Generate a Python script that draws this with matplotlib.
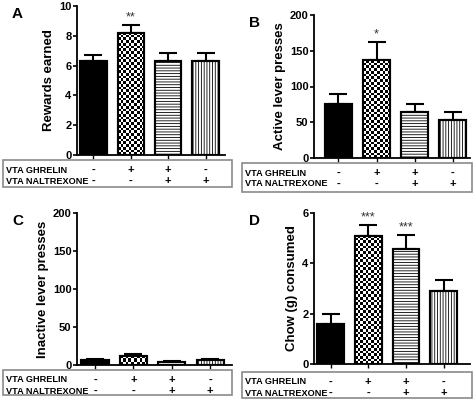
import matplotlib
matplotlib.use("Agg")
import matplotlib.pyplot as plt
import numpy as np
from matplotlib.patches import Rectangle

plt.rcParams['font.family'] = ['Liberation Sans', 'DejaVu Sans']
plt.rcParams['hatch.linewidth'] = 0.6
plt.rcParams['hatch.color'] = 'black'

W, H = 474, 400

ghrelin = ['-', '+', '+', '-']
naltrexone = ['-', '-', '+', '+']

rewards = [6.3, 8.2, 6.3, 6.3]
rewards_err = [0.4, 0.55, 0.55, 0.55]
rewards_sig = ['', '**', '', '']

active = [75, 137, 65, 53]
active_err = [14, 25, 10, 11]
active_sig = ['', '*', '', '']

inactive = [7, 12, 4, 6]
inactive_err = [1.2, 2.0, 1.0, 1.5]
inactive_sig = ['', '', '', '']

chow = [1.6, 5.1, 4.55, 2.9]
chow_err = [0.4, 0.42, 0.58, 0.45]
chow_sig = ['', '***', '***', '']

panels = [
    # letter, values, errors, stars, ylabel, ylim, yticks, axes px (l, t, r, b), xlim, table px (l, t, r, b)
    ('A', rewards, rewards_err, rewards_sig, 'Rewards earned', 10, [0, 2, 4, 6, 8, 10],
     (77, 6, 225, 155), (-0.44, 3.52), (3, 160, 232, 187)),
    ('B', active, active_err, active_sig, 'Active lever presses', 200, [0, 50, 100, 150, 200],
     (314, 15, 470, 158), (-0.64, 3.45), (242, 163, 472, 192)),
    ('C', inactive, inactive_err, inactive_sig, 'Inactive lever presses', 200, [0, 50, 100, 150, 200],
     (77, 213, 232, 365), (-0.47, 3.57), (3, 370, 232, 395)),
    ('D', chow, chow_err, chow_sig, 'Chow (g) consumed', 6, [0, 2, 4, 6],
     (314, 213, 470, 364), (-0.44, 3.70), (242, 372, 472, 398)),
]

fig = plt.figure(figsize=(W / 100, H / 100), dpi=100)


def add_checker(ax, bar, cell=2.7):
    x0, y0 = bar.get_x(), bar.get_y()
    x1, y1 = x0 + bar.get_width(), y0 + bar.get_height()
    p0 = ax.transData.transform((x0, y0))
    p1 = ax.transData.transform((x1, y1))
    nx = max(1, int(round(abs(p1[0] - p0[0]) / cell)))
    ny = max(1, int(round(abs(p1[1] - p0[1]) / cell)))
    img = (np.add.outer(np.arange(ny), np.arange(nx)) % 2).astype(float)
    im = ax.imshow(img, cmap='gray', extent=(x0, x1, y0, y1), aspect='auto',
                   interpolation='nearest', origin='lower', zorder=2.1)
    im.set_clip_path(bar)


for letter, vals, errs, stars, ylabel, ymax, yticks, apx, xlim, tpx in panels:
    l, t, r, b = apx
    ax = fig.add_axes([l / W, 1 - b / H, (r - l) / W, (b - t) / H])
    ax.set_xlim(*xlim)
    ax.set_ylim(0, ymax)
    x = np.arange(len(vals))
    width = 0.71

    ax.errorbar(x, vals, yerr=[np.zeros(len(errs)), errs], fmt='none', ecolor='black',
                elinewidth=1.5, capsize=6.5, capthick=1.5, zorder=1)
    bars = ax.bar(x, vals, width=width, color=['black', 'white', 'white', 'white'],
                  edgecolor='black', linewidth=1.5, zorder=2)
    bars[2].set_hatch('------')
    bars[3].set_hatch('||||||')
    add_checker(ax, bars[1])
    ax.bar(x, vals, width=width, fill=False, edgecolor='black', linewidth=1.5, zorder=2.2)
    ax.set_xlim(*xlim)
    ax.set_ylim(0, ymax)

    for xi, v, e, s in zip(x, vals, errs, stars):
        if s:
            ax.text(xi, v + e + ymax * 0.01, s, ha='center', va='bottom', fontsize=9,
                    color='#333333')

    ax.spines['top'].set_visible(False)
    ax.spines['right'].set_visible(False)
    ax.spines['left'].set_linewidth(1.3)
    ax.spines['bottom'].set_linewidth(1.3)
    ax.set_yticks(yticks)
    ax.set_xticks(x)
    ax.set_xticklabels([])
    ax.tick_params(axis='y', length=3, width=1.2, labelsize=8, pad=1)
    ax.tick_params(axis='x', length=3, width=1.0)
    for lab in ax.get_yticklabels():
        lab.set_fontweight('bold')
    ax.set_ylabel(ylabel, fontsize=9.5, fontweight='bold', labelpad=3)

    fig.text((l - 65) / W, 1 - (t + 8) / H, letter, fontsize=11, fontweight='bold',
             ha='left', va='center')

    # condition table under the bars
    tl, tt, tr, tb = tpx
    fig.patches.append(Rectangle((tl / W, 1 - tb / H), (tr - tl) / W, (tb - tt) / H,
                                 transform=fig.transFigure, fill=False,
                                 edgecolor='#8a8a8a', linewidth=1.2))
    row1 = 1 - (tt + 10) / H
    row2 = 1 - (tt + 21) / H
    fig.text((tl + 3) / W, row1, 'VTA GHRELIN', fontsize=6.6, fontweight='bold',
             ha='left', va='center')
    fig.text((tl + 3) / W, row2, 'VTA NALTREXONE', fontsize=6.6, fontweight='bold',
             ha='left', va='center')
    for xi, g, n in zip(x, ghrelin, naltrexone):
        px = ax.transData.transform((xi, 0))[0] / W
        fig.text(px, row1, g, fontsize=8, fontweight='bold', ha='center', va='center')
        fig.text(px, row2, n, fontsize=8, fontweight='bold', ha='center', va='center')

fig.savefig('out.png', dpi=100)
